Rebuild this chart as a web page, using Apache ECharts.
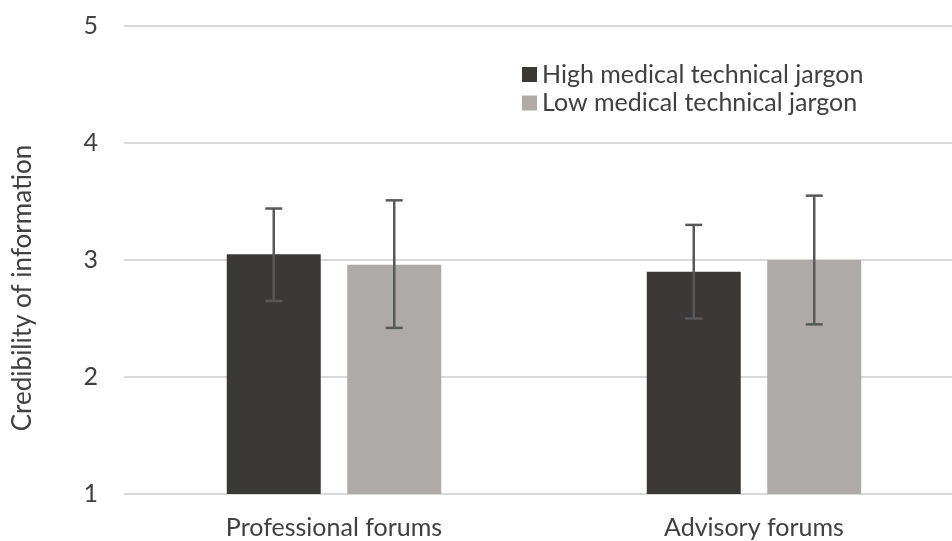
<!DOCTYPE html>
<html>
<head>
<meta charset="utf-8">
<script src="https://cdn.jsdelivr.net/npm/echarts@6/dist/echarts.min.js"></script>
<style>html,body{margin:0;padding:0;background:#fff}#c{width:952px;height:541px}</style>
</head>
<body>
<div id="c"></div>
<script>
var categories = ['Professional forums', 'Advisory forums'];
var seriesNames = ['High medical technical jargon', 'Low medical technical jargon'];
var highMeans = [3.05, 2.90];
var lowMeans = [2.96, 3.00];
var highErrLow = [2.65, 2.50];
var highErrHigh = [3.44, 3.30];
var lowErrLow = [2.42, 2.45];
var lowErrHigh = [3.51, 3.55];
var yTicks = [1, 2, 3, 4, 5];

var BAR_W = 94, GAP = 26.5;
var textColor = '#404040';
var font = 'Lato, "Liberation Sans", sans-serif';

function errSeries(lo, hi, side) {
  var data = lo.map(function (v, i) { return [i, v, hi[i]]; });
  return {
    type: 'custom',
    silent: true,
    z: 10,
    data: data,
    renderItem: function (params, api) {
      var c = api.value(0);
      var p1 = api.coord([c, api.value(1)]);
      var p2 = api.coord([c, api.value(2)]);
      var x = p1[0] + side * (BAR_W + GAP) / 2;
      var cap = 8.5;
      var st = { stroke: '#595959', lineWidth: 2.5 };
      return {
        type: 'group',
        children: [
          { type: 'line', shape: { x1: x, y1: p1[1], x2: x, y2: p2[1] }, style: st },
          { type: 'line', shape: { x1: x - cap, y1: p1[1], x2: x + cap, y2: p1[1] }, style: st },
          { type: 'line', shape: { x1: x - cap, y1: p2[1], x2: x + cap, y2: p2[1] }, style: st }
        ]
      };
    }
  };
}

var chart = echarts.init(document.getElementById('c'), null, { renderer: 'canvas' });
chart.setOption({
  animation: false,
  textStyle: { fontFamily: font },
  legend: {
    orient: 'vertical',
    left: 522,
    top: 62,
    padding: 0,
    itemWidth: 15,
    itemHeight: 15,
    itemGap: 3.5,
    icon: 'rect',
    data: seriesNames,
    textStyle: { fontFamily: font, fontSize: 25, color: textColor }
  },
  grid: { left: 124, top: 26, bottom: 47, width: 840, containLabel: false, outerBoundsMode: 'none' },
  xAxis: {
    type: 'category',
    data: categories,
    axisLine: { show: false },
    axisTick: { show: false },
    axisLabel: { fontFamily: font, fontSize: 25, color: textColor, margin: 21 }
  },
  yAxis: {
    type: 'value',
    min: yTicks[0],
    max: yTicks[yTicks.length - 1],
    interval: 1,
    name: 'Credibility of information',
    nameLocation: 'middle',
    nameGap: 88,
    nameRotate: 90,
    nameTextStyle: { fontFamily: font, fontSize: 26, color: textColor, padding: [0, 56, 0, 0] },
    axisLine: { show: false },
    axisTick: { show: false },
    axisLabel: { fontFamily: font, fontSize: 25, color: textColor, margin: 26 },
    splitLine: { lineStyle: { color: '#d9d9d9', width: 2 } }
  },
  series: [
    { name: seriesNames[0], type: 'bar', data: highMeans, barWidth: BAR_W, barGap: (GAP / BAR_W * 100) + '%',
      itemStyle: { color: '#3b3838' } },
    { name: seriesNames[1], type: 'bar', data: lowMeans, barWidth: BAR_W,
      itemStyle: { color: '#aeaaaa' } },
    errSeries(highErrLow, highErrHigh, -1),
    errSeries(lowErrLow, lowErrHigh, 1)
  ]
});
</script>
</body>
</html>
